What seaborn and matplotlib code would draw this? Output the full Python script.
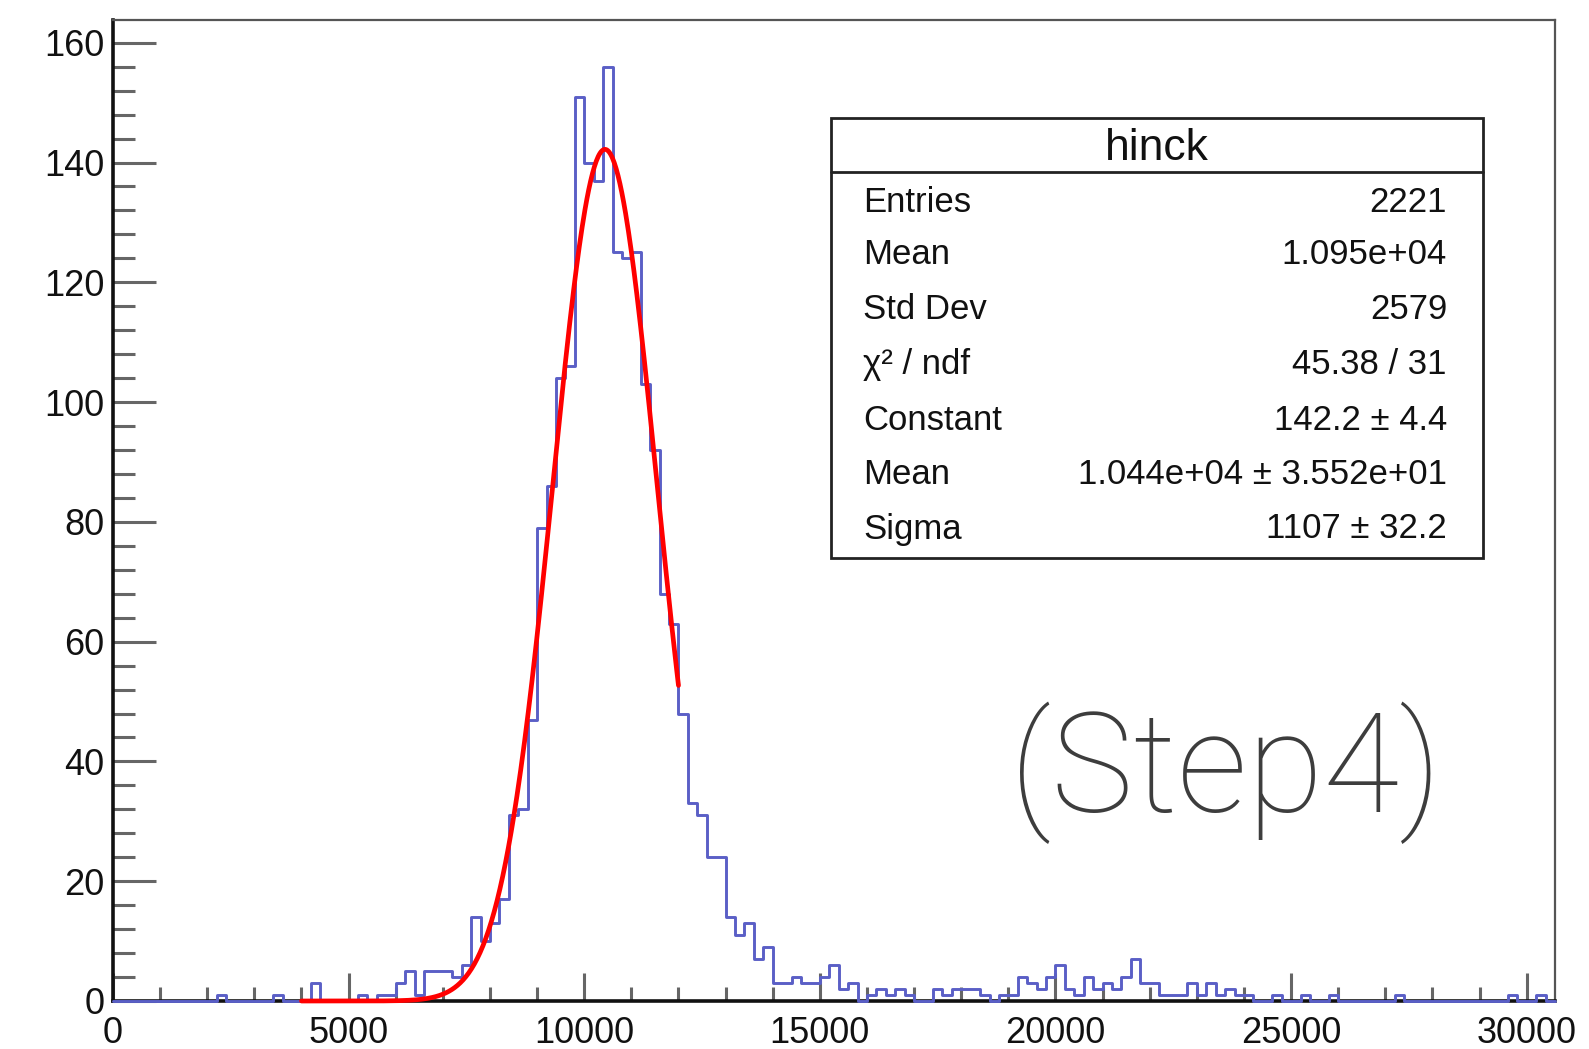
import numpy as np
import pandas as pd
import matplotlib
matplotlib.use("Agg")
import matplotlib.pyplot as plt
from matplotlib.patches import Rectangle
from matplotlib.lines import Line2D
from matplotlib.ticker import MultipleLocator
import seaborn as sns

# ---- histogram "hinck": 153 bins of width 200 on [0, 30600] ----
bin_width = 200
x_max = 30600

# counts per bin, split by region
counts_low = [0] * 11 + [1] + [0] * 5 + [1] + [0] * 3 + [3] + [0] * 4 + [1, 0, 1, 1,
              3, 5, 1, 5, 5, 5, 4, 6, 14, 10, 13, 17, 31, 32, 47]          # 0 .. 9000
counts_peak = [79, 86, 104, 106, 151, 140, 137, 156, 125, 124, 125,
               103, 92, 68, 63]                                              # 9000 .. 12000
counts_tail = [48, 33, 31, 24, 24, 14, 11, 13, 7, 9,
               3, 3, 4, 3, 3, 4, 6, 2, 3, 0,
               1, 2, 1, 2, 1, 0, 0, 2, 1, 2,
               2, 2, 1, 0, 1, 1, 4, 3, 2, 4,
               6, 2, 1, 4, 2, 3, 2, 4, 7, 3,
               3, 1, 1, 1, 3, 1, 3, 1, 2, 1,
               1, 0, 0, 1, 0, 0, 1, 0, 0, 1,
               0, 0, 0, 0, 0, 0, 1, 0, 0, 0,
               0, 0, 0, 0, 0, 0, 0, 0, 1, 0,
               0, 1, 0]                                                      # 12000 .. 30600
counts = counts_low + counts_peak + counts_tail

# Gaussian fit parameters and range
fit_constant = 142.2
fit_mean = 1.044e4
fit_sigma = 1107
fit_range = (4000, 12000)

# statistics box
stats_title = "hinck"
stats_labels = ["Entries", "Mean", "Std Dev", "χ² / ndf", "Constant", "Mean", "Sigma"]
stats_values = ["2221", "1.095e+04", "2579", "45.38 / 31", "142.2 ± 4.4",
                "1.044e+04 ± 3.552e+01", "1107 ± 32.2"]
step_label = "(Step4)"

# ---- figure ----
sns.set_style("white")
plt.rcParams["font.family"] = ["Liberation Sans", "DejaVu Sans"]

W, H = 1589, 1049
fig = plt.figure(figsize=(W / 100, H / 100), dpi=100)
ax = fig.add_axes([113 / W, 1 - 1001 / H, (1555 - 113) / W, (1001 - 20) / H])

centers = np.arange(len(counts)) * bin_width + bin_width / 2
df = pd.DataFrame({"x": centers, "w": np.asarray(counts, dtype=float)})

sns.histplot(data=df, x="x", weights="w", binwidth=bin_width, binrange=(0, x_max),
             element="step", fill=False, color="#5a5fc6", linewidth=2.1, ax=ax)

xs = np.linspace(fit_range[0], fit_range[1], 400)
ys = fit_constant * np.exp(-0.5 * ((xs - fit_mean) / fit_sigma) ** 2)
sns.lineplot(x=xs, y=ys, color="#ff0000", linewidth=3.4, ax=ax)

for art in list(ax.lines) + list(ax.collections) + list(ax.patches):
    art.set_clip_on(False)
    art.set_zorder(4)
ax.lines[-1].set_zorder(5)

ax.set_xlim(0, x_max)
ax.set_ylim(0, 1.05 * max(counts))
ax.set_xlabel("")
ax.set_ylabel("")

ax.xaxis.set_major_locator(MultipleLocator(5000))
ax.xaxis.set_minor_locator(MultipleLocator(1000))
ax.yaxis.set_major_locator(MultipleLocator(20))
ax.yaxis.set_minor_locator(MultipleLocator(4))

ax.tick_params(axis="both", which="both", direction="in", color="#666666",
               labelsize=26, labelcolor="#111111", bottom=True, left=True,
               top=False, right=False)
ax.tick_params(axis="y", which="major", length=31, width=2.2, pad=6)
ax.tick_params(axis="y", which="minor", length=16, width=2.2)
ax.tick_params(axis="x", which="major", length=20, width=2.2, pad=11)
ax.tick_params(axis="x", which="minor", length=10, width=2.2)

for side in ["left", "bottom"]:
    ax.spines[side].set_color("#111111")
    ax.spines[side].set_linewidth(2.6)
for side in ["top", "right"]:
    ax.spines[side].set_color("#555555")
    ax.spines[side].set_linewidth(1.6)
    ax.spines[side].set_visible(True)

# ---- statistics box ----
bx0, bx1 = 831 / W, 1483 / W
by0, by1 = 1 - 558 / H, 1 - 118 / H
fig.add_artist(Rectangle((bx0, by0), bx1 - bx0, by1 - by0, transform=fig.transFigure,
                         facecolor="white", edgecolor="#222222", linewidth=2.0, zorder=10))
fig.add_artist(Line2D([bx0, bx1], [1 - 172 / H] * 2, transform=fig.transFigure,
                      color="#222222", linewidth=2.0, zorder=11))
fig.text((bx0 + bx1) / 2, 1 - 149 / H, stats_title, ha="center", va="center",
         fontsize=32, color="#111111", zorder=12)
row_y = [202, 255, 309, 365, 420, 474, 529]
for yy, lab, val in zip(row_y, stats_labels, stats_values):
    fig.text(863 / W, 1 - yy / H, lab, ha="left", va="center", fontsize=25,
             color="#111111", zorder=12)
    fig.text(1447 / W, 1 - yy / H, val, ha="right", va="center", fontsize=25,
             color="#111111", zorder=12)

fig.text(1226 / W, 1 - 812 / H, step_label, ha="center", va="baseline",
         fontsize=100, color="#3d3d3d", family=["Roboto", "DejaVu Sans"],
         fontweight="light", zorder=12)

fig.savefig("out.png", dpi=100, facecolor="white")
